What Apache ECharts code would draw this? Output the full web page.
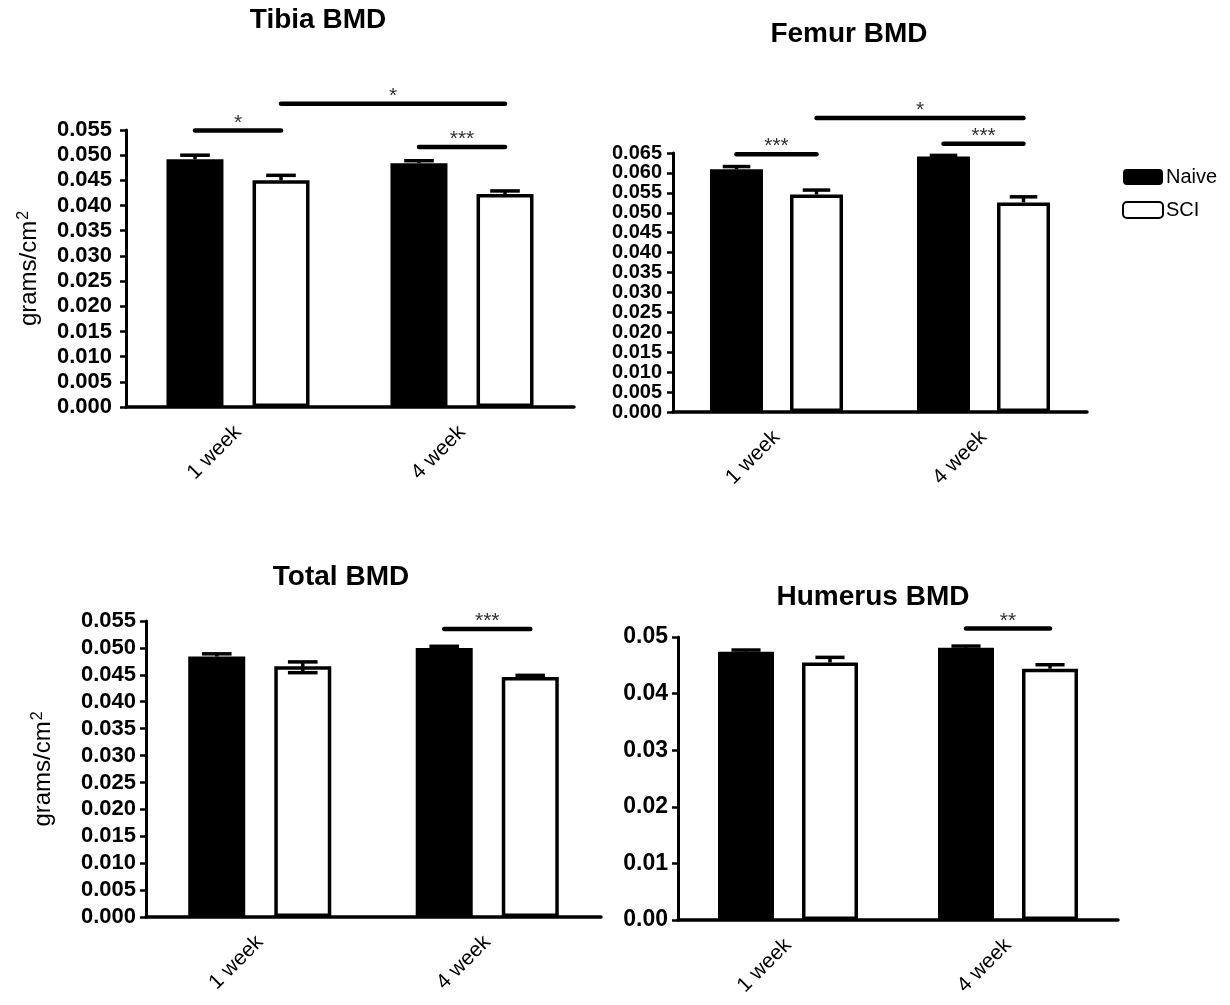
<!DOCTYPE html>
<html>
<head>
<meta charset="utf-8">
<script src="https://cdn.jsdelivr.net/npm/echarts@6/dist/echarts.min.js"></script>
<style>
  html, body { margin: 0; padding: 0; background: #fff; }
  #main { width: 1230px; height: 1005px; }
</style>
</head>
<body>
<div id="main"></div>
<script>
// 数据
var cats = ['1 week', '4 week'];
var groups = ['Naive', 'SCI'];

var tibiaNaive = [0.0492, 0.0484];
var tibiaNaiveHi = [0.0500, 0.0489];
var tibiaSci = [0.0450, 0.0423];
var tibiaSciHi = [0.0460, 0.0429];
var tibiaSciLo = [0.0450, 0.0423];
// [起始组, 起始柱, 结束组, 结束柱, 高度, 标记]
var tibiaSig = [[0, 0, 0, 1, 0.0549, '*'], [0, 1, 1, 1, 0.0602, '*'], [1, 0, 1, 1, 0.0516, '***']];

var femurNaive = [0.0609, 0.0641];
var femurNaiveHi = [0.0616, 0.0644];
var femurSci = [0.0546, 0.0526];
var femurSciHi = [0.0557, 0.0540];
var femurSciLo = [0.0546, 0.0526];
var femurSig = [[0, 0, 0, 1, 0.0647, '***'], [0, 1, 1, 1, 0.0738, '*'], [1, 0, 1, 1, 0.0673, '***']];

var totalNaive = [0.0484, 0.0500];
var totalNaiveHi = [0.0489, 0.0503];
var totalSci = [0.0466, 0.0446];
var totalSciHi = [0.0474, 0.0449];
var totalSciLo = [0.0454, 0.0446];
var totalSig = [[1, 0, 1, 1, 0.0535, '***']];

var humerusNaive = [0.0474, 0.0481];
var humerusNaiveHi = [0.0477, 0.0484];
var humerusSci = [0.0455, 0.0444];
var humerusSciHi = [0.0464, 0.0451];
var humerusSciLo = [0.0455, 0.0444];
var humerusSig = [[1, 0, 1, 1, 0.0515, '**']];

var FONT = 'Liberation Sans, Arial, sans-serif';

// 每个小图：数据 + 版面
var panels = [
  {title: 'Tibia BMD', tx: 318, ty: 6, naive: tibiaNaive, naiveHi: tibiaNaiveHi, sci: tibiaSci, sciHi: tibiaSciHi, sciLo: tibiaSciLo, sig: tibiaSig,
   grid: {left: 126, top: 130, width: 448, height: 277}, max: 0.055, interval: 0.005, digits: 3, bw: 57, gap: 29,
   yName: true, nameGap: 84, labelSize: 22, labelMargin: 14},
  {title: 'Femur BMD', tx: 849, ty: 20, naive: femurNaive, naiveHi: femurNaiveHi, sci: femurSci, sciHi: femurSciHi, sciLo: femurSciLo, sig: femurSig,
   grid: {left: 673, top: 153, width: 414, height: 259}, max: 0.065, interval: 0.005, digits: 3, bw: 53, gap: 27,
   yName: false, labelSize: 20, labelMargin: 11},
  {title: 'Total BMD', tx: 341, ty: 563, naive: totalNaive, naiveHi: totalNaiveHi, sci: totalSci, sciHi: totalSciHi, sciLo: totalSciLo, sig: totalSig,
   grid: {left: 146, top: 621, width: 455, height: 296}, max: 0.055, interval: 0.005, digits: 3, bw: 57, gap: 29,
   yName: true, nameGap: 90, labelSize: 22, labelMargin: 10},
  {title: 'Humerus BMD', tx: 873, ty: 583, naive: humerusNaive, naiveHi: humerusNaiveHi, sci: humerusSci, sciHi: humerusSciHi, sciLo: humerusSciLo, sig: humerusSig,
   grid: {left: 678, top: 637, width: 440, height: 283}, max: 0.05, interval: 0.01, digits: 2, bw: 56, gap: 28,
   yName: false, labelSize: 23, labelMargin: 10}
];

function makeErrRender(bw, gap) {
  return function (params, api) {
    var cat = api.value(0), g = api.value(1), mean = api.value(2), lo = api.value(3), hi = api.value(4);
    var off = (g - 0.5) * (bw + gap);
    var x = api.coord([cat, mean])[0] + off;
    var yHi = api.coord([cat, hi])[1];
    var yLo = api.coord([cat, lo])[1];
    var cap = bw * 0.26;
    var st = {stroke: '#000', lineWidth: 3.5};
    var children = [
      {type: 'line', shape: {x1: x, y1: yLo, x2: x, y2: yHi}, style: st},
      {type: 'line', shape: {x1: x - cap, y1: yHi, x2: x + cap, y2: yHi}, style: st}
    ];
    if (lo < mean) {
      children.push({type: 'line', shape: {x1: x - cap, y1: yLo, x2: x + cap, y2: yLo}, style: st});
    }
    return {type: 'group', children: children};
  };
}

function makeSigRender(bw, gap, sig) {
  return function (params, api) {
    var c1 = api.value(0), g1 = api.value(1), c2 = api.value(2), g2 = api.value(3), v = api.value(4);
    var p1 = api.coord([c1, v]);
    var p2 = api.coord([c2, v]);
    var x1 = p1[0] + (g1 - 0.5) * (bw + gap);
    var x2 = p2[0] + (g2 - 0.5) * (bw + gap);
    var y = p1[1];
    return {type: 'group', children: [
      {type: 'line', shape: {x1: x1, y1: y, x2: x2, y2: y}, style: {stroke: '#000', lineWidth: 4.5, lineCap: 'round'}},
      {type: 'text', x: (x1 + x2) / 2, y: y + 3, style: {text: sig[params.dataIndex][5], align: 'center', verticalAlign: 'bottom',
        fontSize: 21, fontFamily: FONT, fill: '#333'}}
    ]};
  };
}

var option = {
  animation: false,
  backgroundColor: '#fff',
  title: [],
  legend: {
    data: groups,
    orient: 'vertical',
    left: 1117,
    top: 162,
    itemWidth: 40,
    itemHeight: 16,
    itemGap: 13,
    textStyle: {fontSize: 20, fontFamily: FONT, color: '#000', padding: [0, 0, 0, -2]}
  },
  grid: [],
  xAxis: [],
  yAxis: [],
  series: []
};

panels.forEach(function (p, i) {
  option.title.push({
    text: p.title, left: p.tx, top: p.ty, textAlign: 'center', padding: 0,
    textStyle: {fontSize: 28, fontWeight: 'bold', fontFamily: FONT, color: '#000'}
  });
  option.grid.push({left: p.grid.left, top: p.grid.top, width: p.grid.width, height: p.grid.height, containLabel: false});
  option.xAxis.push({
    type: 'category', gridIndex: i, data: cats,
    axisLine: {lineStyle: {color: '#000', width: 3.5}},
    axisTick: {alignWithLabel: true, length: 9, lineStyle: {color: '#000', width: 3}},
    axisLabel: {rotate: 45, fontSize: 21, fontFamily: FONT, color: '#000', margin: 22},
    splitLine: {show: false}
  });
  var yAx = {
    type: 'value', gridIndex: i, min: 0, max: p.max, interval: p.interval,
    axisLine: {show: true, lineStyle: {color: '#000', width: 3}},
    axisTick: {show: true, length: 6, lineStyle: {color: '#000', width: 2.5}},
    axisLabel: {fontSize: p.labelSize, fontWeight: 'bold', fontFamily: FONT, color: '#000', margin: p.labelMargin,
      formatter: function (v) { return v.toFixed(p.digits); }},
    splitLine: {show: false}
  };
  if (p.yName) {
    yAx.name = 'grams/cm{sup|2}';
    yAx.nameLocation = 'middle';
    yAx.nameRotate = 90;
    yAx.nameGap = p.nameGap;
    yAx.nameTextStyle = {fontSize: 24, fontFamily: FONT, color: '#000', lineHeight: 26,
      rich: {sup: {fontSize: 16, fontFamily: FONT, color: '#000', verticalAlign: 'top', lineHeight: 26, padding: [0, 0, 10, 1]}}};
  }
  option.yAxis.push(yAx);

  var barGap = Math.round(p.gap / p.bw * 100) + '%';
  option.series.push({
    name: 'Naive', type: 'bar', xAxisIndex: i, yAxisIndex: i, data: p.naive,
    barWidth: p.bw, barGap: barGap,
    itemStyle: {color: '#000', borderColor: '#000', borderWidth: 0}
  });
  option.series.push({
    name: 'SCI', type: 'bar', xAxisIndex: i, yAxisIndex: i, data: p.sci,
    barWidth: p.bw, barGap: barGap,
    itemStyle: {color: '#fff', borderColor: '#000', borderWidth: 3.5}
  });

  var errData = [];
  for (var k = 0; k < cats.length; k++) {
    errData.push([k, 0, p.naive[k], p.naive[k], p.naiveHi[k]]);
    errData.push([k, 1, p.sci[k], p.sciLo[k], p.sciHi[k]]);
  }
  option.series.push({
    type: 'custom', xAxisIndex: i, yAxisIndex: i, data: errData,
    encode: {x: 0, y: 4}, renderItem: makeErrRender(p.bw, p.gap), z: 3, silent: true
  });
  option.series.push({
    type: 'custom', xAxisIndex: i, yAxisIndex: i,
    data: p.sig.map(function (s) { return [s[0], s[1], s[2], s[3], s[4]]; }),
    encode: {x: 0, y: 4}, renderItem: makeSigRender(p.bw, p.gap, p.sig), z: 3, silent: true, clip: false
  });
});

var myChart = echarts.init(document.getElementById('main'));
myChart.setOption(option);
</script>
</body>
</html>
